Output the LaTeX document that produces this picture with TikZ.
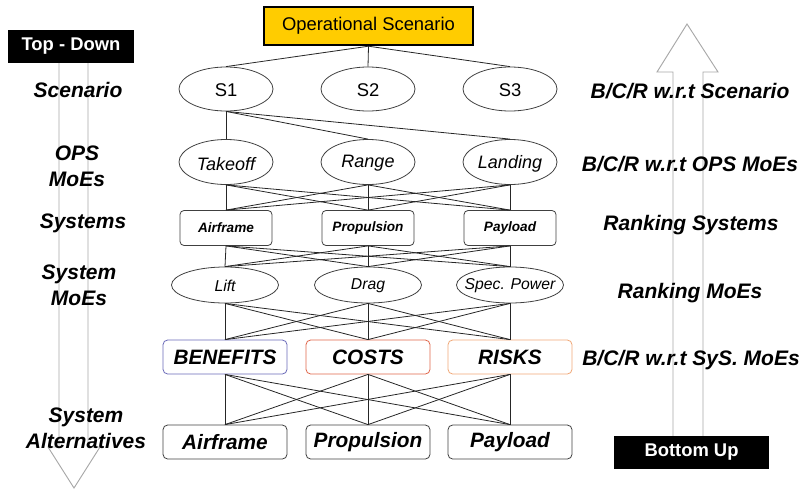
\documentclass[tikz,border=0pt]{standalone}
\usepackage{fontspec}
\setmainfont{Liberation Sans}
\usetikzlibrary{shapes.geometric}
\definecolor{gold}{HTML}{FFCC00}
\definecolor{bencol}{HTML}{6A6AB8}
\definecolor{costcol}{HTML}{E0664A}
\definecolor{riskcol}{HTML}{F0A878}
\definecolor{arrgrey}{HTML}{A8A8A8}
\tikzset{
  lbl/.style={font=\fontsize{15.75}{19.5}\selectfont\bfseries\itshape, align=center, inner sep=0pt},
  ell/.style={ellipse, draw=black!75, line width=0.6pt, inner sep=0pt, minimum width=70.5pt, minimum height=33pt},
  moe/.style={ellipse, draw=black!75, line width=0.6pt, inner sep=0pt, minimum width=80.25pt, minimum height=27pt},
  sysbox/.style={rectangle, rounded corners=3pt, draw=black!75, line width=0.6pt, inner sep=0pt, minimum width=69pt, minimum height=26.25pt, font=\fontsize{10.2}{12}\selectfont\bfseries\itshape},
  bigbox/.style={rectangle, rounded corners=3.5pt, draw=black!75, line width=0.6pt, inner sep=0pt, minimum width=93pt, minimum height=25.5pt, font=\fontsize{15.6}{18}\selectfont\bfseries\itshape},
  blk/.style={rectangle, fill=black, text=white, inner sep=0pt, minimum height=24.75pt, font=\fontsize{13.8}{16}\selectfont\bfseries},
  conn/.style={draw=black!85, line width=0.6pt},
  grey/.style={draw=arrgrey, line width=0.7pt, line join=miter},
  stxt/.style={font=\fontsize{13.8}{16}\selectfont, yshift=-1pt},
  otxt/.style={font=\fontsize{13.5}{16}\selectfont\itshape, yshift=-1.2pt},
  mtxt/.style={font=\fontsize{11.8}{14}\selectfont\itshape, yshift=-0.8pt}
}
\begin{document}
\begin{tikzpicture}[x=0.75pt,y=-0.75pt]
\useasboundingbox (0,0) rectangle (802,489);
% grey arrows
\draw[grey] (59,63) -- (59,447) -- (48,447) -- (74,488) -- (100,447) -- (88,447) -- (88,63);
\draw[grey] (673,436) -- (673,72) -- (657,72) -- (687,24) -- (718,72) -- (703,72) -- (703,436);
% black boxes
\node[blk, minimum width=94.5pt] (td) at (71,46.5) {Top - Down};
\node[blk, minimum width=116.25pt] (bu) at (691.5,452.5) {Bottom Up};
% top box
\node[draw=black, line width=1.3pt, fill=gold, minimum width=157pt, minimum height=29pt, inner sep=0pt, font=\fontsize{13.8}{16}\selectfont] (os) at (368.5,26) {Operational Scenario};
% scenarios
\node[ell, label={[stxt]center:S1}] (s1) at (226,89) {};
\node[ell, label={[stxt]center:S2}] (s2) at (368,89) {};
\node[ell, label={[stxt]center:S3}] (s3) at (510,89) {};
% ops moes
\node[ell, minimum height=33.75pt, label={[otxt]center:Takeoff}] (o1) at (226,162) {};
\node[ell, minimum height=33.75pt, label={[otxt]center:Range}] (o2) at (368,162) {};
\node[ell, minimum height=33.75pt, label={[otxt]center:Landing}] (o3) at (510,162) {};
% systems
\node[sysbox] (y1) at (226,228) {Airframe};
\node[sysbox] (y2) at (368,228) {Propulsion};
\node[sysbox] (y3) at (510,228) {Payload};
% system moes
\node[moe, label={[mtxt]center:Lift}] (m1) at (225,285) {};
\node[moe, label={[mtxt]center:Drag}] (m2) at (368,285) {};
\node[moe, label={[mtxt]center:Spec. Power}] (m3) at (510,285) {};
% bcr
\node[bigbox, draw=bencol] (b1) at (225,357) {BENEFITS};
\node[bigbox, draw=costcol] (b2) at (368,357) {COSTS};
\node[bigbox, draw=riskcol] (b3) at (510,357) {RISKS};
% alternatives
\node[bigbox] (a1) at (225,442) {Airframe};
\node[bigbox] (a2) at (368,442) {Propulsion};
\node[bigbox] (a3) at (510,442) {Payload};
% connectors
\foreach \i in {1,2,3} {\draw[conn] (os.south) -- (s\i.north);}
\foreach \i in {1,2,3} {\draw[conn] (s1.south) -- (o\i.north);}
\foreach \i in {1,2,3} {\foreach \j in {1,2,3} {
  \draw[conn] (o\i.south) -- (y\j.north);
  \draw[conn] (y\i.south) -- (m\j.north);
  \draw[conn] (m\i.south) -- (b\j.north);
  \draw[conn] (b\i.south) -- (a\j.north);
}}
% left labels
\node[lbl] (l1) at (78,90) {Scenario};
\node[lbl] (l2) at (77,166) {OPS\\MoEs};
\node[lbl] (l3) at (83,223) {Systems};
\node[lbl] (l4) at (79,285) {System\\MoEs};
\node[lbl] (l5) at (86,428) {System\\Alternatives};
% right labels
\node[lbl] (r1) at (690,91) {B/C/R w.r.t Scenario};
\node[lbl] (r2) at (690,164) {B/C/R w.r.t OPS MoEs};
\node[lbl] (r3) at (691,225) {Ranking Systems};
\node[lbl] (r4) at (690,293) {Ranking MoEs};
\node[lbl] (r5) at (691,360) {B/C/R w.r.t SyS. MoEs};
\end{tikzpicture}
\end{document}
